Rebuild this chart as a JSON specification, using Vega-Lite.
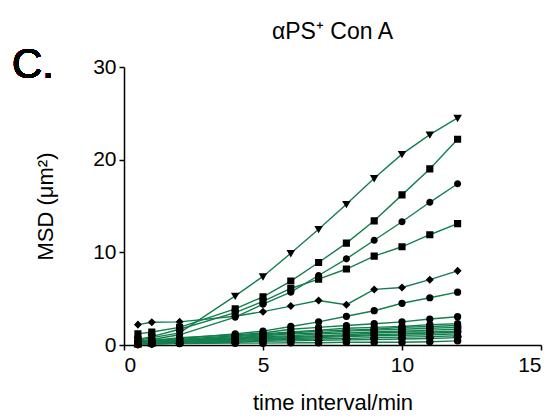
{
  "$schema": "https://vega.github.io/schema/vega-lite/v6.json",
  "width": 417,
  "height": 278,
  "autosize": {"type": "none"},
  "padding": {"left": 124, "top": 67, "right": 16, "bottom": 74},
  "background": "white",
  "config": {
    "view": {"stroke": null},
    "font": "Liberation Sans",
    "axis": {"grid": false, "domainColor": "black", "tickColor": "black", "domainWidth": 1.5, "tickWidth": 1.5, "labelColor": "black", "titleColor": "black", "labelFont": "Liberation Sans", "titleFont": "Liberation Sans", "titleFontWeight": "normal"}
  },
  "title": {"text": "αPS⁺ Con A", "fontSize": 23, "fontWeight": "normal", "font": "Liberation Sans", "color": "black", "anchor": "middle", "frame": "group", "baseline": "alphabetic", "offset": -18},
  "data": {
    "values": [
      {"t": 0.5, "s01": 0.5, "s02": 1.2, "s03": 0.4, "s04": 0.6, "s05": 2.2, "s06": 0.3, "s07": 0.3, "c01": 0.3, "c02": 0.2, "c03": 0.2, "c04": 0.2, "c05": 0.1, "c06": 0.1, "c07": 0.1, "c08": 0.1, "c09": 0.05, "c10": 0.05},
      {"t": 1, "s01": 0.8, "s02": 1.4, "s03": 0.6, "s04": 0.9, "s05": 2.45, "s06": 0.4, "s07": 0.5, "c01": 0.4, "c02": 0.3, "c03": 0.3, "c04": 0.3, "c05": 0.2, "c06": 0.2, "c07": 0.2, "c08": 0.15, "c09": 0.1, "c10": 0.1},
      {"t": 2, "s01": 1.3, "s02": 1.9, "s03": 1.1, "s04": 1.7, "s05": 2.5, "s06": 0.7, "s07": 0.8, "c01": 0.6, "c02": 0.5, "c03": 0.5, "c04": 0.4, "c05": 0.4, "c06": 0.3, "c07": 0.3, "c08": 0.2, "c09": 0.2, "c10": 0.15},
      {"t": 4, "s01": 5.3, "s02": 3.9, "s03": 3.0, "s04": 3.5, "s05": 3.1, "s06": 1.2, "s07": 1.1, "c01": 1.0, "c02": 0.9, "c03": 0.8, "c04": 0.7, "c05": 0.7, "c06": 0.6, "c07": 0.5, "c08": 0.4, "c09": 0.3, "c10": 0.2},
      {"t": 5, "s01": 7.4, "s02": 5.2, "s03": 4.4, "s04": 4.7, "s05": 3.6, "s06": 1.5, "s07": 1.3, "c01": 1.2, "c02": 1.1, "c03": 1.0, "c04": 0.9, "c05": 0.8, "c06": 0.7, "c07": 0.6, "c08": 0.5, "c09": 0.4, "c10": 0.2},
      {"t": 6, "s01": 9.9, "s02": 6.9, "s03": 5.7, "s04": 6.1, "s05": 4.2, "s06": 2.0, "s07": 1.7, "c01": 1.4, "c02": 1.3, "c03": 1.2, "c04": 1.0, "c05": 0.9, "c06": 0.8, "c07": 0.7, "c08": 0.6, "c09": 0.45, "c10": 0.25},
      {"t": 7, "s01": 12.5, "s02": 8.9, "s03": 7.5, "s04": 7.1, "s05": 4.8, "s06": 2.5, "s07": 1.9, "c01": 1.6, "c02": 1.5, "c03": 1.3, "c04": 1.2, "c05": 1.0, "c06": 0.9, "c07": 0.8, "c08": 0.65, "c09": 0.5, "c10": 0.25},
      {"t": 8, "s01": 15.2, "s02": 11.0, "s03": 9.3, "s04": 8.2, "s05": 4.35, "s06": 3.1, "s07": 2.1, "c01": 1.8, "c02": 1.6, "c03": 1.5, "c04": 1.3, "c05": 1.1, "c06": 1.0, "c07": 0.9, "c08": 0.7, "c09": 0.55, "c10": 0.3},
      {"t": 9, "s01": 18.0, "s02": 13.4, "s03": 11.3, "s04": 9.6, "s05": 6.0, "s06": 3.7, "s07": 2.3, "c01": 1.9, "c02": 1.7, "c03": 1.6, "c04": 1.4, "c05": 1.3, "c06": 1.1, "c07": 1.0, "c08": 0.8, "c09": 0.6, "c10": 0.3},
      {"t": 10, "s01": 20.6, "s02": 16.2, "s03": 13.3, "s04": 10.6, "s05": 6.2, "s06": 4.5, "s07": 2.5, "c01": 2.0, "c02": 1.9, "c03": 1.7, "c04": 1.5, "c05": 1.4, "c06": 1.2, "c07": 1.05, "c08": 0.85, "c09": 0.65, "c10": 0.3},
      {"t": 11, "s01": 22.7, "s02": 19.0, "s03": 15.4, "s04": 11.9, "s05": 7.05, "s06": 5.1, "s07": 2.8, "c01": 2.2, "c02": 2.0, "c03": 1.8, "c04": 1.6, "c05": 1.4, "c06": 1.3, "c07": 1.1, "c08": 0.9, "c09": 0.7, "c10": 0.35},
      {"t": 12, "s01": 24.5, "s02": 22.2, "s03": 17.4, "s04": 13.1, "s05": 8.0, "s06": 5.7, "s07": 3.05, "c01": 2.3, "c02": 2.1, "c03": 1.9, "c04": 1.7, "c05": 1.5, "c06": 1.35, "c07": 1.2, "c08": 1.0, "c09": 0.8, "c10": 0.45}
    ]
  },
  "transform": [
    {"fold": ["s01", "s02", "s03", "s04", "s05", "s06", "s07", "c01", "c02", "c03", "c04", "c05", "c06", "c07", "c08", "c09", "c10"], "as": ["series", "msd"]}
  ],
  "encoding": {
    "x": {"field": "t", "type": "quantitative", "scale": {"domain": [0, 15], "nice": false}, "axis": {"values": [0, 5, 10, 15], "title": "time interval/min", "labelFontSize": 21, "titleFontSize": 22, "tickSize": 5, "labelPadding": 4, "titlePadding": 17}},
    "y": {"field": "msd", "type": "quantitative", "scale": {"domain": [0, 30], "nice": false}, "axis": {"values": [0, 10, 20, 30], "title": "MSD (μm²)", "labelFontSize": 21, "titleFontSize": 22, "tickSize": 5, "labelPadding": 3, "titlePadding": 35}}
  },
  "layer": [
    {
      "mark": {"type": "line", "color": "#137f4d", "strokeWidth": 1.4},
      "encoding": {"detail": {"field": "series"}}
    },
    {
      "mark": {"type": "point", "filled": true, "fill": "black", "stroke": "black", "strokeWidth": 2, "opacity": 1},
      "encoding": {
        "shape": {"field": "series", "legend": null, "scale": {"domain": ["s01", "s02", "s03", "s04", "s05", "s06", "s07", "c01", "c02", "c03", "c04", "c05", "c06", "c07", "c08", "c09", "c10"], "range": ["triangle-down", "square", "circle", "square", "diamond", "circle", "circle", "circle", "circle", "circle", "square", "circle", "circle", "triangle-up", "circle", "diamond", "circle"]}},
        "fillOpacity": {"field": "series", "legend": null, "scale": {"domain": ["s01", "s02", "s03", "s04", "s05", "s06", "s07", "c01", "c02", "c03", "c04", "c05", "c06", "c07", "c08", "c09", "c10"], "range": [1, 1, 0, 0, 1, 0, 1, 1, 0, 1, 1, 0, 1, 1, 1, 1, 1]}},
        "size": {"field": "series", "legend": null, "scale": {"domain": ["s01", "s02", "s03", "s04", "s05", "s06", "s07", "c01", "c02", "c03", "c04", "c05", "c06", "c07", "c08", "c09", "c10"], "range": [26, 30, 26, 30, 10, 32, 16, 28, 28, 28, 26, 28, 28, 24, 28, 20, 28]}}
      }
    },
    {
      "mark": {"type": "text", "text": "C.", "fontSize": 42, "font": "Liberation Sans", "align": "left", "baseline": "alphabetic", "color": "black"},
      "encoding": {"x": {"datum": -4.03}, "y": {"datum": 28.8}}
    }
  ]
}
